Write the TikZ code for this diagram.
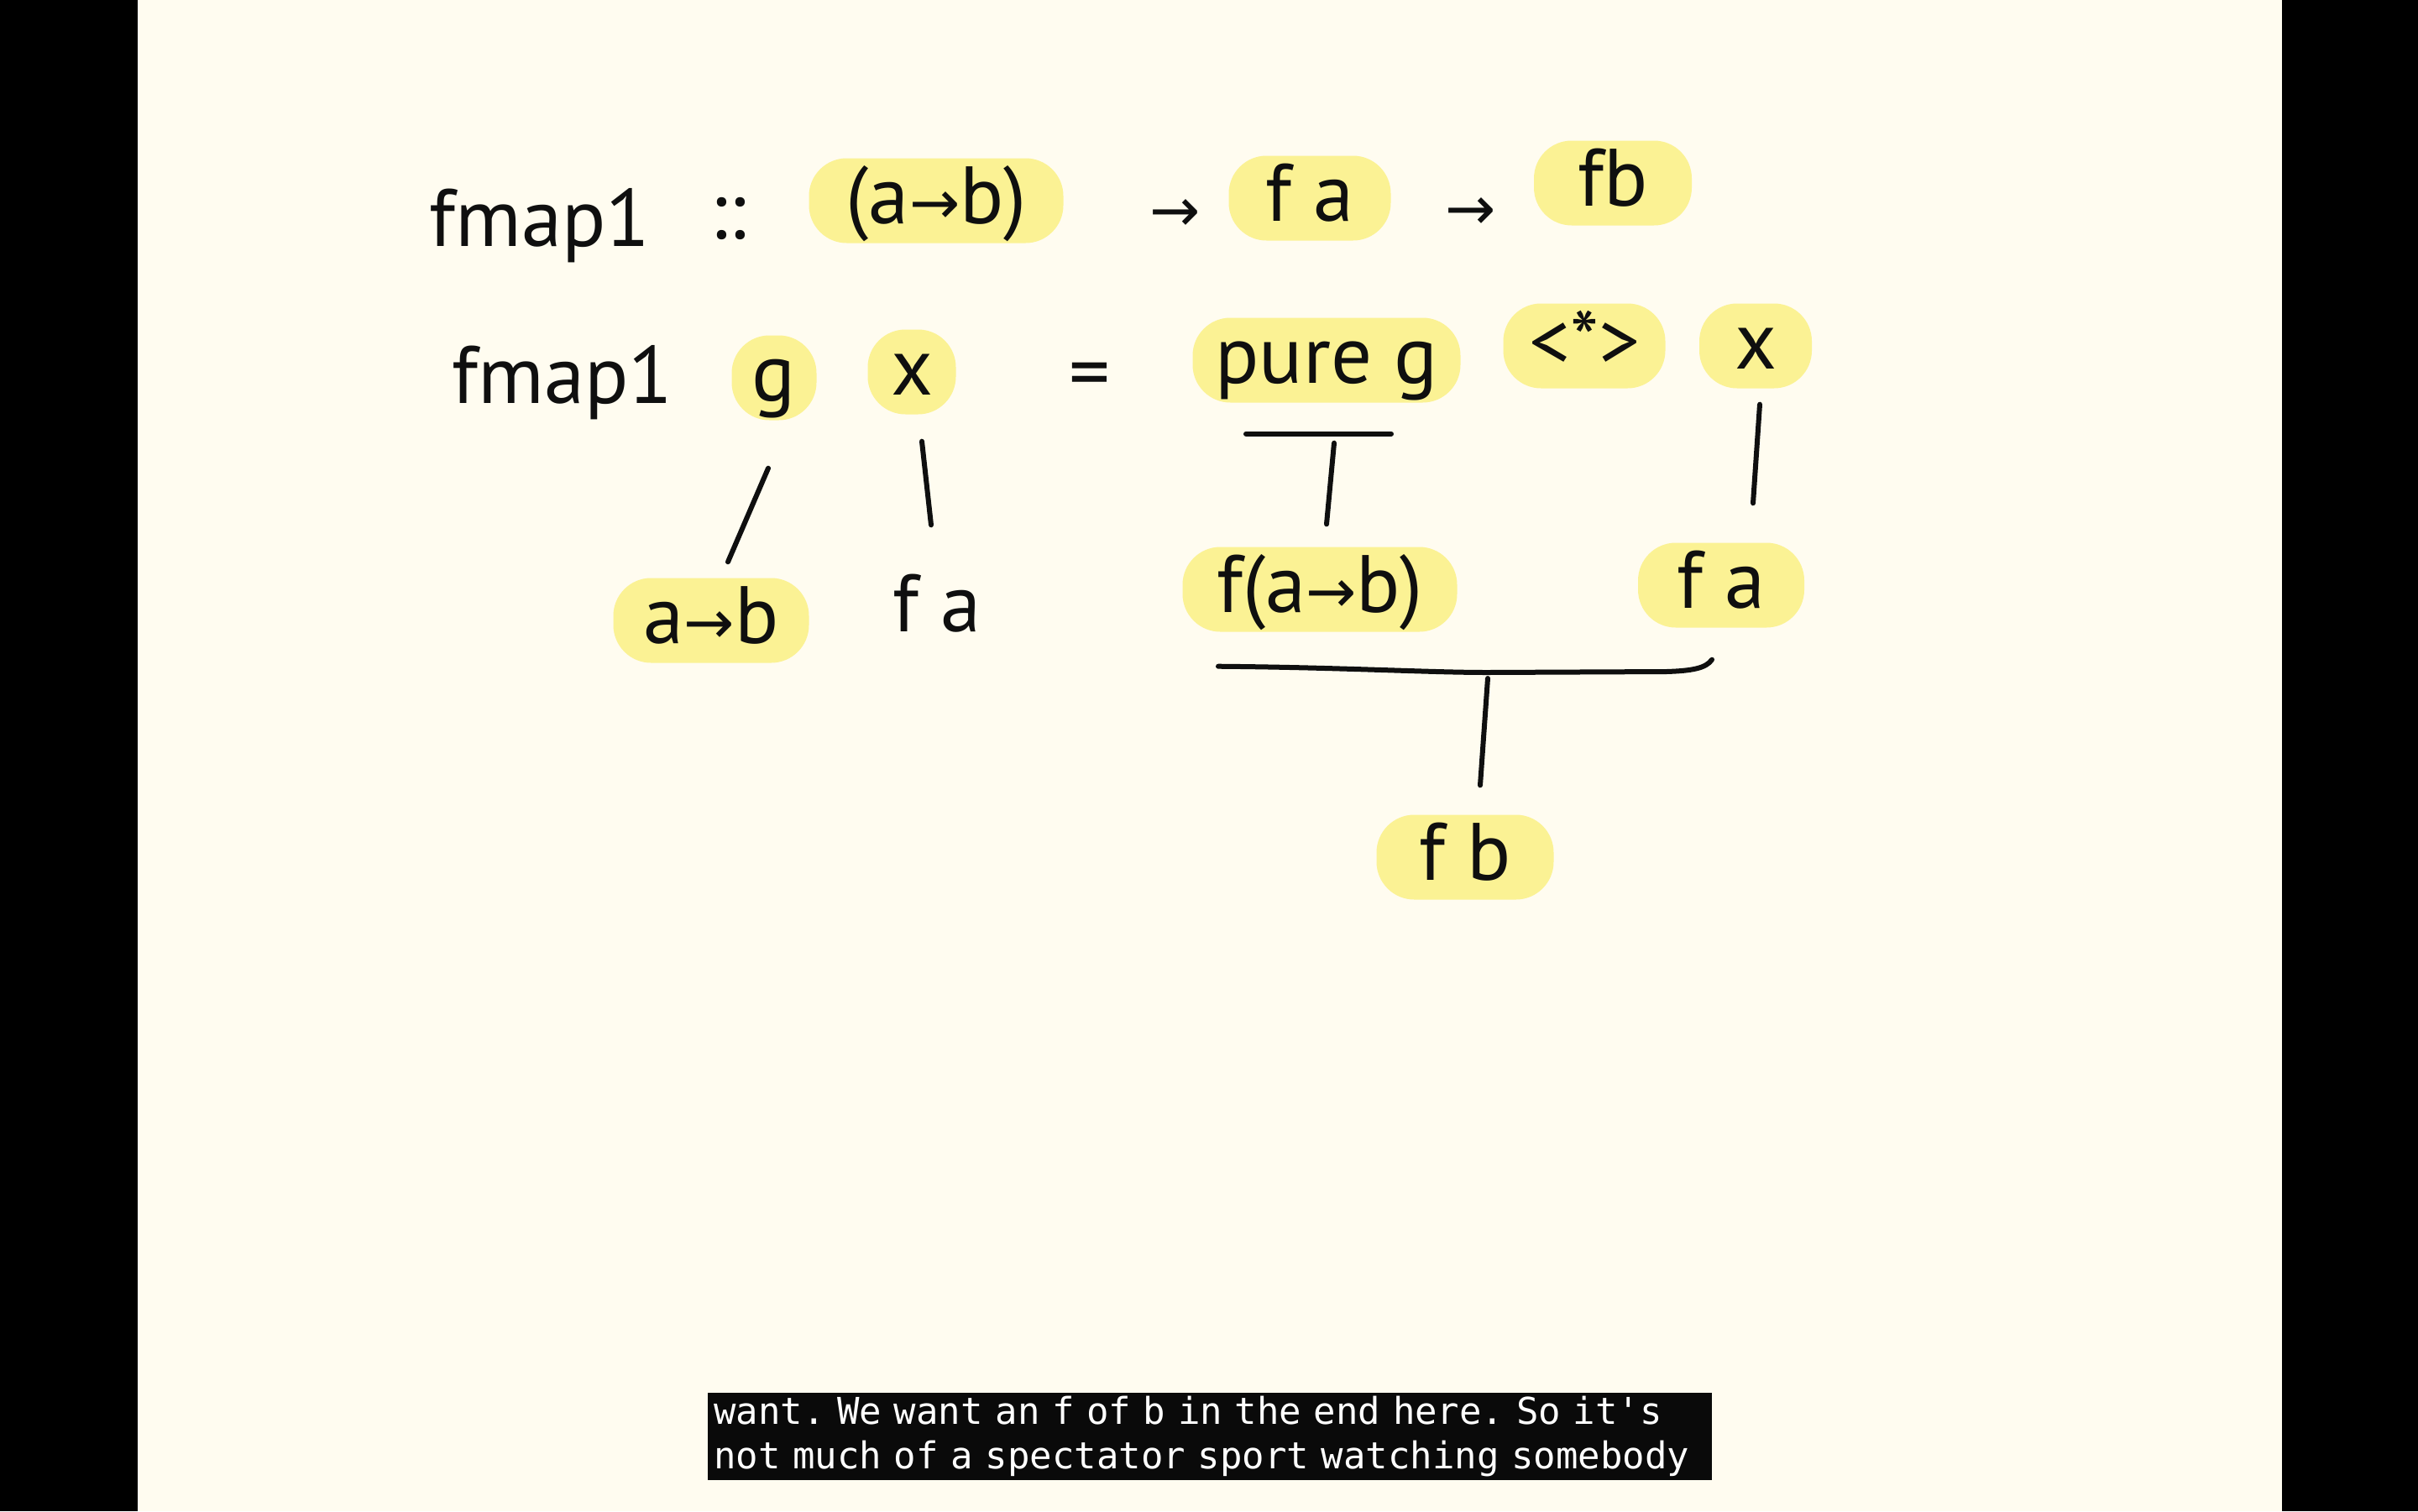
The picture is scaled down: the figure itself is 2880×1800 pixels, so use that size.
\documentclass[tikz,border=0pt]{standalone}
\usepackage{fontspec}
\setmainfont{PT Sans}
\newfontfamily\arrowfont{DejaVu Sans}
\newfontfamily\subfont{DejaVu Sans Mono}
\usetikzlibrary{calc}
\definecolor{cream}{RGB}{255,252,240}
\definecolor{hly}{RGB}{251,242,148}
\definecolor{ink}{RGB}{15,15,15}
\definecolor{subbg}{RGB}{10,10,10}
\newcommand\hwfont{\fontsize{97}{110}\selectfont}
\newcommand\arw{{\arrowfont\fontsize{72}{90}\selectfont →}}
\newcommand\subsetup{\subfont\fontsize{44}{53}\selectfont\frenchspacing}
\begin{document}
\begin{tikzpicture}[x=1pt,y=-1pt,
  hw/.style={font=\hwfont, text=ink, inner sep=0pt, text height=76pt, text depth=22pt, minimum height=101pt},
  hl/.style={hw, fill=hly, rounded corners=45pt},
  conn/.style={draw=ink, line width=6pt, line cap=round}]
\useasboundingbox (0,0) rectangle (2880,1800);
\fill[cream] (0,0) rectangle (2880,1800);
\fill[black] (0,0) rectangle (164,1800);
\fill[black] (2718,0) rectangle (2880,1800);

% row 1
\node[hw] (sig) at (643,266) {fmap1};
\node[hw] (dcolon) at (867,257) {::};
\node[hl, minimum width=303pt] (h1) at (1115,239) {(a\arw b)};
\node[hw] (ar1) at (1400,248) {\arw};
\node[hl, minimum width=193pt] (h2) at (1560,236) {f a};
\node[hw] (ar2) at (1752,246) {\arw};
\node[hl, minimum width=188pt] (h3) at (1921,218) {fb};

% row 2
\node[hw] (def) at (670,453) {fmap1};
\node[hl, minimum width=101pt] (g) at (922,450) {g};
\node[hl, minimum width=105pt] (x) at (1086,443) {x};
\node[hw] (eq) at (1298,449) {=};
\node[hl, minimum width=319pt] (pg) at (1580,429) {pure g};
\node[hl, minimum width=193pt] (ap) at (1887,412) {<*>};
\node[hl, minimum width=134pt] (x2) at (2091,412) {x};

% row 3
\node[hl, minimum width=233pt] (ab) at (847,739) {a\arw b};
\node[hw] (fa1) at (1116,725) {f a};
\node[hl, minimum width=327pt] (fab) at (1572,702) {f(a\arw b)};
\node[hl, minimum width=198pt] (fa2) at (2050,697) {f a};

% row 4
\node[hl, minimum width=211pt] (fb2) at (1745,1021) {f b};

% connectors
\draw[conn] ([shift={(-7,57)}]g.south) -- ([shift={(20,-19)}]ab.north);
\draw[conn] ([shift={(12,32)}]x.south) -- ([shift={(-7,-49)}]fa1.north);
\coordinate (ul1) at ([shift={(-96,37)}]pg.south);
\coordinate (ul2) at ([shift={(77,37)}]pg.south);
\coordinate (ulm) at ([shift={(9,48)}]pg.south);
\draw[conn] (ul1) -- (ul2);
\draw[conn] (ulm) -- ([shift={(8,-27)}]fab.north);
\draw[conn] ([shift={(5,19)}]x2.south) -- ([shift={(38,-47)}]fa2.north);

\coordinate (bl) at ([shift={(-121,41)}]fab.south);
\coordinate (br) at ([shift={(-11,38)}]fa2.south);
\coordinate (bm) at (1772,801);
\draw[conn] (bl) .. controls (1600,795) and (1700,801) .. (bm) -- (1985,800) .. controls (2015,799) and (2032,796) .. (br);
\draw[conn] ([shift={(0,7)}]bm) -- ([shift={(18,-35)}]fb2.north);

% subtitle
\node[fill=subbg, text=white, font=\subsetup, align=left, text width=1182pt, inner xsep=7pt, inner ysep=4pt, anchor=north west] (sub) at (843,1659) {\mbox{want. We want an f of b in the end here. So it's}\\\mbox{not much of a spectator sport watching somebody}};
\end{tikzpicture}
\end{document}
